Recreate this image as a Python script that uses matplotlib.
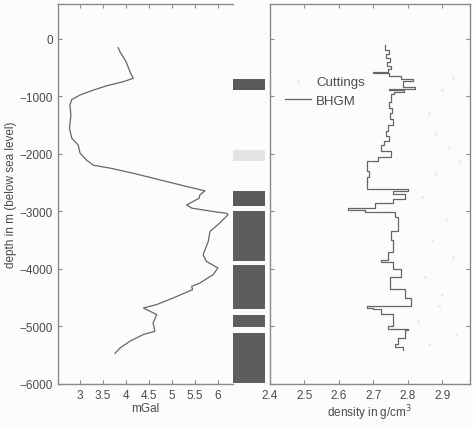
#!/usr/bin/env python3
"""Gravity anomaly (mGal) and density profile against depth, with lithology column."""
import matplotlib
matplotlib.use("Agg")
import matplotlib.pyplot as plt

# left panel: gravity anomaly along the borehole
grav_mgal = [3.83, 3.87, 4.0, 4.1, 4.16, 3.94, 3.58, 3.29, 3.0, 2.82, 2.78, 2.8,
             2.77, 2.82, 2.96, 3.0, 3.14, 3.29, 3.65, 4.16, 4.74, 5.32, 5.72,
             5.61, 5.59, 5.32, 5.43, 5.9, 6.19, 6.22, 6.04, 5.83, 5.79, 5.68,
             5.75, 6.0, 5.9, 5.61, 5.43, 5.45, 5.03, 4.67, 4.38, 4.67, 4.59,
             4.63, 4.38, 4.09, 3.87, 3.76]
grav_depth = [-160, -230, -400, -600, -690, -750, -820, -895, -980, -1060,
              -1155, -1330, -1560, -1730, -1850, -1990, -2110, -2200, -2250,
              -2340, -2455, -2570, -2645, -2715, -2775, -2890, -2945, -3005,
              -3035, -3060, -3205, -3350, -3525, -3755, -3870, -3985, -4100,
              -4245, -4305, -4360, -4505, -4620, -4680, -4795, -4940, -5085,
              -5140, -5255, -5375, -5470]

# right panel: BHGM interval densities (top of interval, density)
bhgm_top = [-120, -200, -260, -330, -400, -470, -530, -580, -600, -650, -700,
            -740, -850, -870, -885, -930, -960, -1100, -1200, -1300, -1400,
            -1500, -1600, -1700, -1780, -1850, -1950, -2050, -2130, -2300,
            -2400, -2620, -2640, -2700, -2790, -2850, -2950, -2985, -3010,
            -3100, -3350, -3500, -3700, -3850, -3880, -4000, -4150, -4350,
            -4500, -4640, -4680, -4700, -4780, -5000, -5040, -5060, -5200,
            -5300, -5360]
bhgm_rho = [2.733, 2.745, 2.735, 2.748, 2.738, 2.750, 2.742, 2.700, 2.745,
            2.781, 2.815, 2.786, 2.820, 2.745, 2.790, 2.760, 2.750, 2.745,
            2.755, 2.748, 2.758, 2.742, 2.735, 2.745, 2.730, 2.722, 2.752,
            2.712, 2.680, 2.688, 2.680, 2.800, 2.757, 2.791, 2.757, 2.704,
            2.627, 2.675, 2.762, 2.771, 2.752, 2.757, 2.743, 2.723, 2.757,
            2.781, 2.748, 2.791, 2.810, 2.680, 2.700, 2.723, 2.757, 2.743,
            2.800, 2.791, 2.772, 2.762, 2.786]
bhgm_end = -5410

# cuttings densities (faint points)
cut_rho = [2.93, 2.90, 2.86, 2.88, 2.92, 2.95, 2.88, 2.84, 2.91, 2.87,
           2.93, 2.85, 2.90, 2.89, 2.83, 2.94, 2.86]
cut_depth = [-690, -900, -1300, -1650, -1900, -2130, -2350, -2750, -3150,
             -3500, -3800, -4150, -4450, -4650, -4900, -5150, -5300]

# lithology column: (top, bottom, shade)
litho_top = [-700, -1940, -2650, -3000, -3935, -4800, -5110]
litho_bot = [-890, -2130, -2900, -3865, -4700, -5010, -5980]
litho_col = ["#5a5a5a", "#e4e4e4", "#5a5a5a", "#5d5d5d", "#5d5d5d", "#5d5d5d", "#5d5d5d"]

plt.rcParams['font.family'] = ['Liberation Sans', 'DejaVu Sans']
plt.rcParams['font.size'] = 8.5
ink = "#4a4a4a"
line_col = "#666666"

fig = plt.figure(figsize=(4.73, 4.27), dpi=100, facecolor="#fcfcfc")
H = 427.0
W = 473.0
bot = (H - 385) / H
hgt = 380 / H
ax1 = fig.add_axes([58 / W, bot, 175 / W, hgt])
axl = fig.add_axes([233 / W, bot, 32 / W, hgt])
ax2 = fig.add_axes([270 / W, bot, 200 / W, hgt])

for ax in (ax1, axl, ax2):
    ax.set_facecolor("#fcfcfc")
    ax.set_ylim(-6000, 600)
    for sp in ax.spines.values():
        sp.set_color("#8a8a8a")
        sp.set_linewidth(1.0)
    ax.tick_params(direction="in", colors="#8a8a8a", labelcolor=ink, length=3)

# gravity panel
ax1.plot(grav_mgal, grav_depth, color=line_col, lw=0.9)
ax1.set_xlim(2.52, 6.33)
ax1.set_xticks([3, 3.5, 4, 4.5, 5, 5.5, 6])
ax1.set_xticklabels(["3", "3.5", "4", "4.5", "5", "5.5", "6"])
ax1.set_yticks(range(-6000, 1, 1000))
ax1.spines["right"].set_visible(False)
ax1.tick_params(top=True, right=False)
ax1.set_xlabel("mGal", color=ink, labelpad=1)
ax1.set_ylabel("depth in m (below sea level)", color=ink, labelpad=2)

# lithology column
for t, b, c in zip(litho_top, litho_bot, litho_col):
    axl.bar(0.5, t - b, bottom=b, width=1.0, color=c, edgecolor="none")
axl.set_xlim(0, 1)
axl.axis("off")

# density panel
xs, ys = [], []
tops = bhgm_top
bots = bhgm_top[1:] + [bhgm_end]
for t, b, r in zip(tops, bots, bhgm_rho):
    xs += [r, r]
    ys += [t, b]
ax2.plot(cut_rho, cut_depth, ls="none", marker=".", ms=2.5, color="#ebebeb", label="Cuttings")
ax2.plot(xs, ys, color=line_col, lw=0.9, label="BHGM")
ax2.set_xlim(2.4, 2.98)
ax2.set_xticks([2.4, 2.5, 2.6, 2.7, 2.8, 2.9])
ax2.set_yticks(range(-6000, 1, 1000))
ax2.tick_params(top=True, right=True, labelleft=False)
ax2.set_xlabel("density in g/cm$^3$", color=ink, labelpad=1)
leg = ax2.legend(frameon=False, loc="upper left", bbox_to_anchor=(0.075, 0.81),
                 borderaxespad=0, borderpad=0, handlelength=2.0,
                 handletextpad=0.35, labelspacing=0.45, fontsize=9.5)
for txt in leg.get_texts():
    txt.set_color(ink)

fig.savefig("out.png", dpi=100, facecolor=fig.get_facecolor())
